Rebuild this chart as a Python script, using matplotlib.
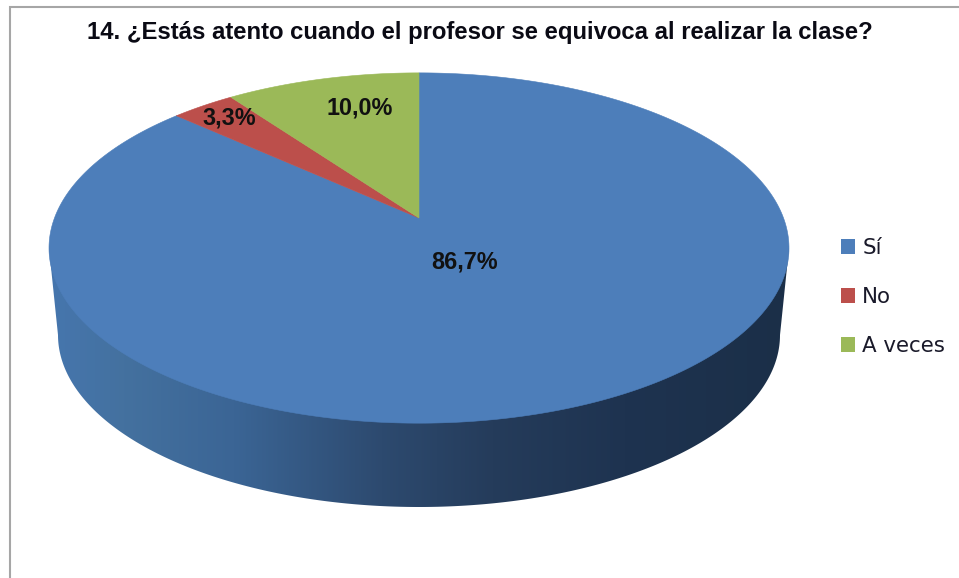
import numpy as np
import matplotlib
matplotlib.use("Agg")
import matplotlib.pyplot as plt
from matplotlib.patches import Polygon, Patch
from matplotlib.colors import LinearSegmentedColormap

title = "14. ¿Estás atento cuando el profesor se equivoca al realizar la clase?"
categories = ["Sí", "No", "A veces"]
values = [86.7, 3.3, 10.0]
labels = ["86,7%", "3,3%", "10,0%"]
colors = ["#4D7EBA", "#BC4F4B", "#9BB958"]

W, H = 959, 578
fig = plt.figure(figsize=(W / 100, H / 100), dpi=100, facecolor="white")
ax = fig.add_axes([0, 0, 1, 1])
ax.set_xlim(0, W)
ax.set_ylim(H, 0)
ax.axis("off")

# perspective disc geometry (pixels)
APEX_X, APEX_Y = 419, 218
C = 60 / 350
A = 170.0
D = 370 * np.sqrt(1 - C ** 2)


def project(theta):
    """theta clockwise from 12 o'clock, in radians."""
    x, y = np.sin(theta), np.cos(theta)
    den = 1 + C * y
    return APEX_X + D * x / den, APEX_Y - A * y / den


# side wall
t = np.linspace(0, 2 * np.pi, 721)
BOT_CX, BOT_CY, BOT_RX, BOT_RY = 419, 335, 361, 172
bot_x = BOT_CX + BOT_RX * np.cos(t)
bot_y = BOT_CY + BOT_RY * np.sin(t)
mask = bot_y >= BOT_CY
order = np.argsort(bot_x[mask])
lower_x, lower_y = bot_x[mask][order], bot_y[mask][order]
side_pts = np.vstack([
    [[49, 248]],
    np.column_stack([lower_x, lower_y]),
    [[789, 248]],
])
cmap = LinearSegmentedColormap.from_list(
    "side",
    [(0.0, "#4676AE"), (0.10, "#44719F"), (0.25, "#3B6595"),
     (0.45, "#2D4A6F"), (0.60, "#253C5B"), (0.78, "#1E3350"), (1.0, "#1B2F48")],
)
grad = np.linspace(0, 1, 256).reshape(1, -1)
im = ax.imshow(grad, extent=[49, 789, 520, 240], cmap=cmap, aspect="auto", zorder=1)
ax.set_xlim(0, W)
ax.set_ylim(H, 0)
clip = Polygon(side_pts, closed=True, transform=ax.transData, facecolor="none", edgecolor="none")
ax.add_patch(clip)
im.set_clip_path(clip)

# top face wedges
start = 0.0
total = sum(values)
for v, col in zip(values, colors):
    a = np.linspace(start, start + v / total * 2 * np.pi, 400)
    px, py = project(a)
    pts = np.vstack([[[APEX_X, APEX_Y]], np.column_stack([px, py])])
    ax.add_patch(Polygon(pts, closed=True, facecolor=col, edgecolor=col, linewidth=0.4, zorder=2))
    start += v / total * 2 * np.pi

# data labels
label_xy = [(465, 262), (229, 118), (360, 108)]
for txt, (lx, ly) in zip(labels, label_xy):
    ax.text(lx, ly, txt, ha="center", va="center", family="Liberation Sans",
            fontweight="bold", fontsize=16.8, color="#111111", zorder=3)

# title
ax.text(480, 32, title, ha="center", va="center", family="Liberation Sans",
        fontweight="bold", fontsize=17.2, color="#0A0A14", zorder=3)

# frame
ax.plot([10, 10, 959], [578, 7, 7], color="#A6A6A6", lw=1.5, solid_joinstyle="miter", zorder=3)

# legend
handles = [Patch(facecolor=c, edgecolor="none", label=n) for c, n in zip(colors, categories)]
leg = ax.legend(handles=handles, loc="center left", bbox_to_anchor=(841 / W, 1 - 297 / H),
                frameon=False, borderpad=0, borderaxespad=0, handlelength=0.66, handleheight=0.66,
                handletextpad=0.33, labelspacing=1.36,
                prop={"family": "DejaVu Sans", "size": 15.4})
for tx in leg.get_texts():
    tx.set_color("#1A1A2A")

fig.savefig("out.png", dpi=100, facecolor="white")
